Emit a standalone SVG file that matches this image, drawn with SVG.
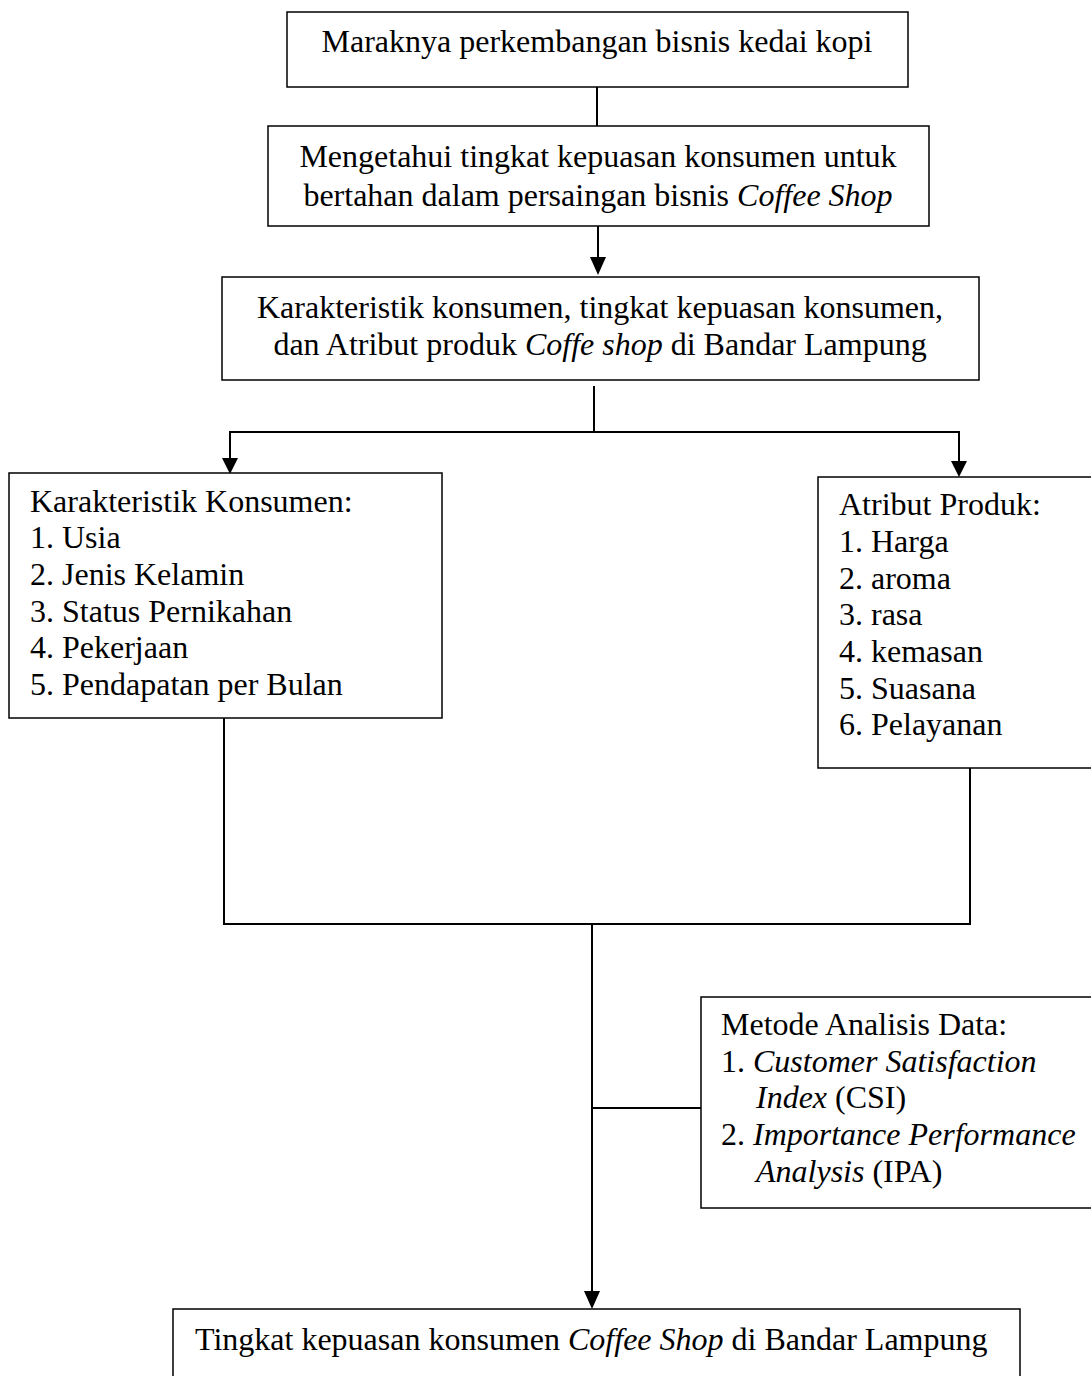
<svg xmlns="http://www.w3.org/2000/svg" width="1091" height="1376" viewBox="0 0 1091 1376">
<style>
.box{fill:#fff;stroke:#000;stroke-width:1.5}
.t{font-family:"Liberation Serif","Times New Roman",serif;font-size:32px;fill:#000}
.c{text-anchor:middle}
.i{font-style:italic}
.ln{fill:none;stroke:#000;stroke-width:2}
</style>
<defs>
<marker id="ah" markerUnits="userSpaceOnUse" markerWidth="16" markerHeight="16" refX="8" refY="16" orient="auto-start-reverse" viewBox="0 0 16 16">
<path d="M0,0 L16,0 L8,16 Z" fill="#000" transform="rotate(0)"/>
</marker>
</defs>
<g id="connectors">
<line class="ln" x1="597" y1="87" x2="597" y2="126"/>
<path d="M598,226 V259" class="ln"/>
<path d="M590,257 L606,257 L598,275 Z" fill="#000"/>
<line class="ln" x1="594" y1="386" x2="594" y2="432"/>
<line class="ln" x1="229" y1="432" x2="960" y2="432"/>
<path d="M230,432 V461" class="ln"/>
<path d="M222,458 L238,458 L230,474 Z" fill="#000"/>
<path d="M959,432 V464" class="ln"/>
<path d="M951,461 L967,461 L959,477 Z" fill="#000"/>
<line class="ln" x1="224" y1="710" x2="224" y2="925"/>
<line class="ln" x1="970" y1="768" x2="970" y2="925"/>
<line class="ln" x1="224" y1="924" x2="970" y2="924"/>
<path d="M592,924 V1293" class="ln"/>
<path d="M584,1291 L600,1291 L592,1309 Z" fill="#000"/>
<line class="ln" x1="592" y1="1108" x2="701" y2="1108"/>
</g>
<g id="n1">
<rect class="box" x="287" y="12" width="621" height="75"/>
<text class="t c" x="597" y="52">Maraknya perkembangan bisnis kedai kopi</text>
</g>
<g id="n2">
<rect class="box" x="268" y="126" width="661" height="100"/>
<text class="t c" x="598" y="167">Mengetahui tingkat kepuasan konsumen untuk</text>
<text class="t c" x="598" y="206">bertahan dalam persaingan bisnis <tspan class="i">Coffee Shop</tspan></text>
</g>
<g id="n3">
<rect class="box" x="222" y="277" width="757" height="103"/>
<text class="t c" x="600" y="318">Karakteristik konsumen, tingkat kepuasan konsumen,</text>
<text class="t c" x="600" y="355">dan Atribut produk <tspan class="i">Coffe shop</tspan> di Bandar Lampung</text>
</g>
<g id="n4">
<rect class="box" x="9" y="473" width="433" height="245"/>
<text class="t" x="30" y="512">Karakteristik Konsumen:</text>
<text class="t" x="30" y="548">1. Usia</text>
<text class="t" x="30" y="585">2. Jenis Kelamin</text>
<text class="t" x="30" y="622">3. Status Pernikahan</text>
<text class="t" x="30" y="658">4. Pekerjaan</text>
<text class="t" x="30" y="695">5. Pendapatan per Bulan</text>
</g>
<g id="n5">
<rect class="box" x="818" y="477" width="290" height="291"/>
<text class="t" x="839" y="515">Atribut Produk:</text>
<text class="t" x="839" y="552">1. Harga</text>
<text class="t" x="839" y="589">2. aroma</text>
<text class="t" x="839" y="625">3. rasa</text>
<text class="t" x="839" y="662">4. kemasan</text>
<text class="t" x="839" y="699">5. Suasana</text>
<text class="t" x="839" y="735">6. Pelayanan</text>
</g>
<g id="n6">
<rect class="box" x="701" y="997" width="410" height="211"/>
<text class="t" x="721" y="1035">Metode Analisis Data:</text>
<text class="t" x="721" y="1072">1. <tspan class="i">Customer Satisfaction</tspan></text>
<text class="t" x="756" y="1108"><tspan class="i">Index</tspan> (CSI)</text>
<text class="t" x="721" y="1145">2. <tspan class="i">Importance Performance</tspan></text>
<text class="t" x="756" y="1182"><tspan class="i">Analysis</tspan> (IPA)</text>
</g>
<g id="n7">
<rect class="box" x="173" y="1309" width="847" height="80"/>
<text class="t" x="195" y="1350">Tingkat kepuasan konsumen <tspan class="i">Coffee Shop</tspan> di Bandar Lampung</text>
</g>
</svg>
